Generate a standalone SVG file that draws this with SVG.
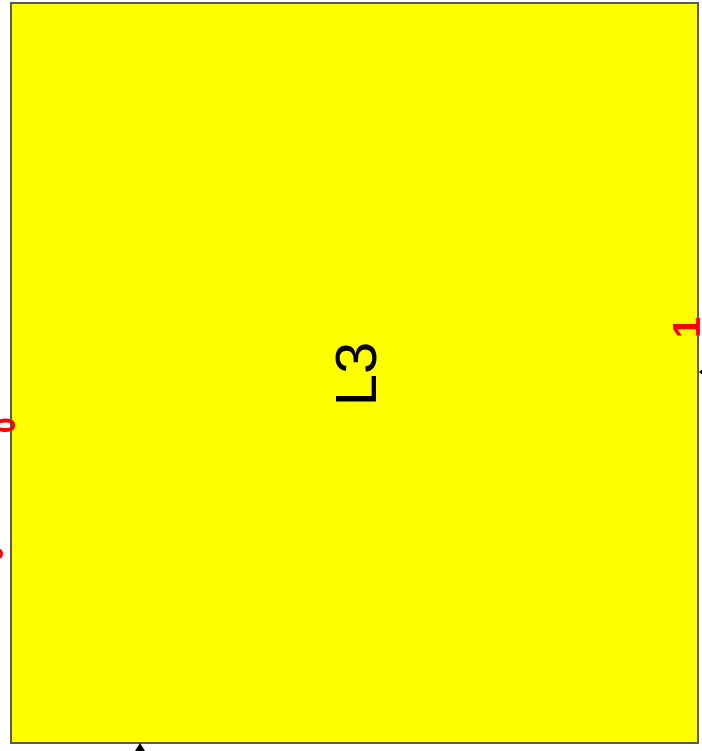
<svg xmlns="http://www.w3.org/2000/svg" width="702" height="751" viewBox="0 0 702 751">
<style>
.box{fill:#ffff00;stroke:#5a5a5a;stroke-width:2}
.lbl{font-family:"Liberation Sans",Arial,sans-serif;fill:#000}
.port{font-family:"Liberation Sans",Arial,sans-serif;fill:#ff0000;font-weight:bold}
.arr{fill:#000}
</style>
<rect width="702" height="751" fill="#ffffff"/>
<g id="node-L3">
<rect class="box" x="11" y="3" width="687" height="740"/>
<text class="lbl" font-size="58" text-anchor="middle" transform="translate(376,374) rotate(-90)">L3</text>
</g>
<g id="ports">
<text class="port" font-size="28" transform="translate(15,433) rotate(-90)">0</text>
<text class="port" font-size="26" transform="translate(3,561) rotate(-90)">0</text>
<text class="port" font-size="38" transform="translate(700,338) rotate(-90)">1</text>
</g>
<g id="connectors">
<polygon class="arr" points="140,743 135,751 145,751"/>
<polygon class="arr" points="699,372 704,368 704,376"/>
</g>
</svg>
